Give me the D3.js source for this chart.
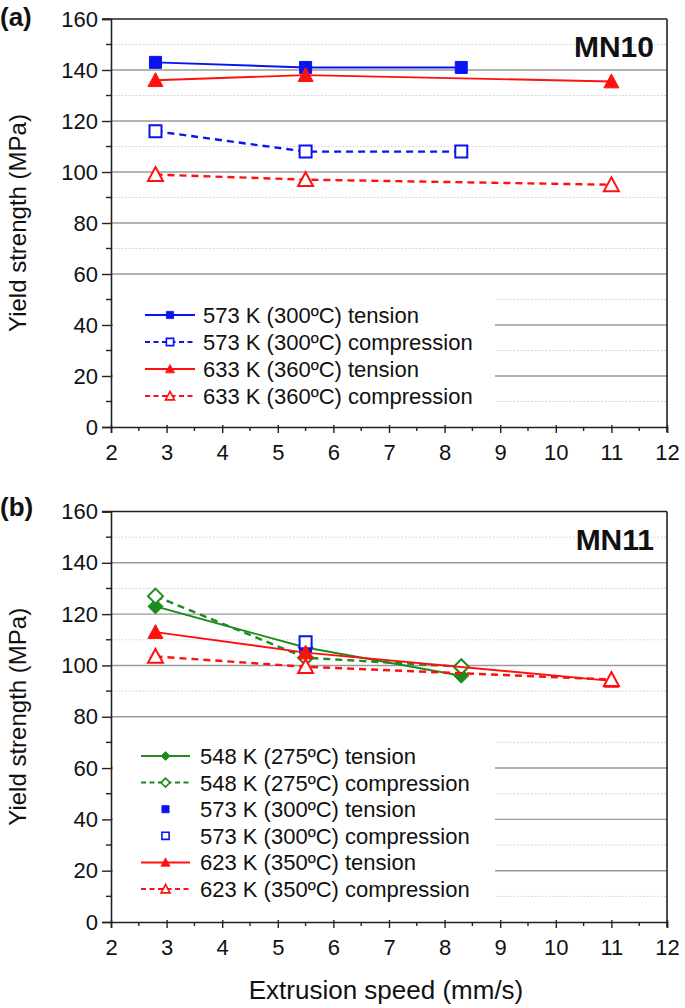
<!DOCTYPE html>
<html><head><meta charset="utf-8">
<script src="https://cdn.jsdelivr.net/npm/d3@7"></script>
<style>body{margin:0;background:#fff}svg{display:block;font-family:"Liberation Sans",Arial,sans-serif}</style>
</head><body>
<svg id="c" width="685" height="1008"></svg>
<script>
// ---- data ----
const speeds = [2.8, 5.5, 8.3, 11];
const xTickValues = [2,3,4,5,6,7,8,9,10,11,12];
const yTickValues = [0,20,40,60,80,100,120,140,160];

// Panel (a) MN10
const a573T = [143, 141, 141, null];
const a573C = [116, 108, 108, null];
const a633T = [136, 138, null, 135.5];
const a633C = [99, 97, null, 95];
const aLabels = ["573 K (300ºC) tension","573 K (300ºC) compression","633 K (360ºC) tension","633 K (360ºC) compression"];

// Panel (b) MN11
const b548T = [123, 107, 96, null];
const b548C = [127, 103, 99.5, null];
const b573T = [null, 107, null, null];
const b573C = [null, 109, null, null];
const b623T = [113, 105, null, 94];
const b623C = [103.5, 99.5, null, 94.5];
const bLabels = ["548 K (275ºC) tension","548 K (275ºC) compression","573 K (300ºC) tension","573 K (300ºC) compression","623 K (350ºC) tension","623 K (350ºC) compression"];

const BLUE="#0a14f0", RED="#ff1010", GREEN="#1e8a1e";

const svg = d3.select("#c");
const L=111, R=667;

function panel(cfg){
  const g = svg.append("g");
  const x = d3.scaleLinear().domain([2,12]).range([L,R]);
  const y = d3.scaleLinear().domain([0,160]).range([cfg.bottom, cfg.top]);
  // minor grid
  g.selectAll(".mg").data(d3.range(10,160,20)).join("line")
    .attr("x1",L).attr("x2",R).attr("y1",d=>y(d)).attr("y2",d=>y(d))
    .attr("stroke","#d8d8d8").attr("stroke-width",1).attr("stroke-dasharray","2,1.5");
  // major grid
  g.selectAll(".Mg").data(yTickValues.filter(v=>v>0&&v<160)).join("line")
    .attr("x1",L).attr("x2",R).attr("y1",d=>y(d)).attr("y2",d=>y(d))
    .attr("stroke","#9a9a9a").attr("stroke-width",1.4);
  // frame top/right
  g.append("line").attr("x1",L-9).attr("x2",R).attr("y1",y(160)).attr("y2",y(160)).attr("stroke","#222").attr("stroke-width",1.6);
  g.append("line").attr("x1",R).attr("x2",R).attr("y1",y(160)).attr("y2",y(0)+5).attr("stroke","#222").attr("stroke-width",1.6);
  // axes
  const ya = g.append("g").attr("transform",`translate(${L},0)`)
    .call(d3.axisLeft(y).tickValues(yTickValues).tickSize(9).tickPadding(4));
  ya.select(".domain").attr("stroke","#222").attr("stroke-width",1.6);
  ya.selectAll(".tick line").attr("stroke","#222").attr("stroke-width",1.4);
  ya.selectAll("text").attr("font-size",22).attr("fill","#111").attr("font-family","Liberation Sans, Arial");
  g.selectAll(".ymt").data(d3.range(10,160,20)).join("line")
    .attr("x1",L-5).attr("x2",L).attr("y1",d=>y(d)).attr("y2",d=>y(d)).attr("stroke","#222").attr("stroke-width",1.4);
  const xa = g.append("g").attr("transform",`translate(0,${cfg.bottom})`)
    .call(d3.axisBottom(x).tickValues(xTickValues).tickSize(6).tickPadding(11).tickFormat(d3.format("d")));
  xa.select(".domain").attr("stroke","#222").attr("stroke-width",1.6);
  xa.selectAll(".tick line").attr("stroke","#222").attr("stroke-width",1.4).attr("y1",-2);
  xa.selectAll("text").attr("font-size",22).attr("fill","#111").attr("font-family","Liberation Sans, Arial");
  g.selectAll(".xmt").data(d3.range(2.5,12,1)).join("line")
    .attr("x1",d=>x(d)).attr("x2",d=>x(d)).attr("y1",cfg.bottom).attr("y2",cfg.bottom+4).attr("stroke","#222").attr("stroke-width",1.4);
  // y title
  g.append("text").attr("transform",`translate(26,${(cfg.top+cfg.bottom)/2}) rotate(-90)`)
    .attr("text-anchor","middle").attr("font-size",24).attr("fill","#111").text("Yield strength (MPa)");
  // panel letter
  g.append("text").attr("x",0).attr("y",cfg.top+cfg.letterDy).attr("font-size",26).attr("font-weight","bold").attr("fill","#111").text(cfg.letter);
  // panel name
  g.append("text").attr("x",R-13).attr("y",cfg.top+38).attr("text-anchor","end").attr("font-size",30).attr("font-weight","bold").attr("fill","#111").text(cfg.name);

  // series
  cfg.series.forEach(s=>{
    const pts = speeds.map((v,i)=>({x:v,y:s.vals[i]})).filter(p=>p.y!==null);
    if(s.line){
      g.append("path").datum(pts).attr("fill","none").attr("stroke",s.color).attr("stroke-width",s.dash?2.4:1.9)
        .attr("stroke-dasharray",s.dash?"7,5":null)
        .attr("d",d3.line().x(p=>x(p.x)).y(p=>y(p.y)));
    }
    g.selectAll(null).data(pts).join("path")
      .attr("transform",p=>`translate(${x(p.x)},${y(p.y)})`)
      .attr("d",markerPath(s.shape, 1))
      .attr("fill",s.filled?s.color:"#fff").attr("stroke",s.color).attr("stroke-width",s.filled?1:2);
  });

  // legend
  const lg = g.append("g");
  lg.append("rect").attr("x",L+2).attr("y",cfg.legTop).attr("width",cfg.legW).attr("height",cfg.legH).attr("fill","#fff");
  cfg.series.forEach((s,i)=>{
    const yy = cfg.legY0 + i*cfg.legStep;
    if(s.line){
      lg.append("line").attr("x1",cfg.legX1).attr("x2",cfg.legX2).attr("y1",yy).attr("y2",yy)
        .attr("stroke",s.color).attr("stroke-width",2).attr("stroke-dasharray",s.dash?"5,3.5":null);
    }
    const mx=(cfg.legX1+cfg.legX2)/2;
    lg.append("path").attr("transform",`translate(${mx},${yy})`).attr("d",markerPath(s.shape,0.6))
      .attr("fill",s.filled?s.color:"#fff").attr("stroke",s.color).attr("stroke-width",s.filled?0.8:1.6);
    lg.append("text").attr("x",cfg.legTx).attr("y",yy).attr("dy","0.36em").attr("font-size",22).attr("fill","#111")
      .text(cfg.labels[i]);
  });
}

function markerPath(shape, k){
  if(shape==="square"){ const h=6*k; return `M${-h},${-h}H${h}V${h}H${-h}Z`; }
  if(shape==="tri"){ const w=7.5*k, h=7.5*k; return `M0,${-h}L${w},${h*0.85}L${-w},${h*0.85}Z`; }
  if(shape==="diamond"){ const h=7.5*k; return `M0,${-h}L${h},0L0,${h}L${-h},0Z`; }
}

panel({
  top:19, bottom:427, letter:"(a)", name:"MN10", labels:aLabels, letterDy:7,
  legTop:288, legH:124, legW:382, legY0:315, legStep:27, legX1:145, legX2:195, legTx:203,
  series:[
    {vals:a573T,color:BLUE,shape:"square",filled:true,line:true,dash:false},
    {vals:a573C,color:BLUE,shape:"square",filled:false,line:true,dash:true},
    {vals:a633T,color:RED,shape:"tri",filled:true,line:true,dash:false},
    {vals:a633C,color:RED,shape:"tri",filled:false,line:true,dash:true}
  ]
});
panel({
  top:511.5, bottom:922, letter:"(b)", name:"MN11", labels:bLabels, letterDy:4,
  legTop:725, legH:190, legW:382, legY0:756, legStep:26.6, legX1:141, legX2:190, legTx:200,
  series:[
    {vals:b548T,color:GREEN,shape:"diamond",filled:true,line:true,dash:false},
    {vals:b548C,color:GREEN,shape:"diamond",filled:false,line:true,dash:true},
    {vals:b573T,color:BLUE,shape:"square",filled:true,line:false},
    {vals:b573C,color:BLUE,shape:"square",filled:false,line:false},
    {vals:b623T,color:RED,shape:"tri",filled:true,line:true,dash:false},
    {vals:b623C,color:RED,shape:"tri",filled:false,line:true,dash:true}
  ]
});
svg.append("text").attr("x",(L+R)/2-3).attr("y",999).attr("text-anchor","middle").attr("font-size",26).attr("fill","#111").text("Extrusion speed (mm/s)");
</script>
</body></html>
